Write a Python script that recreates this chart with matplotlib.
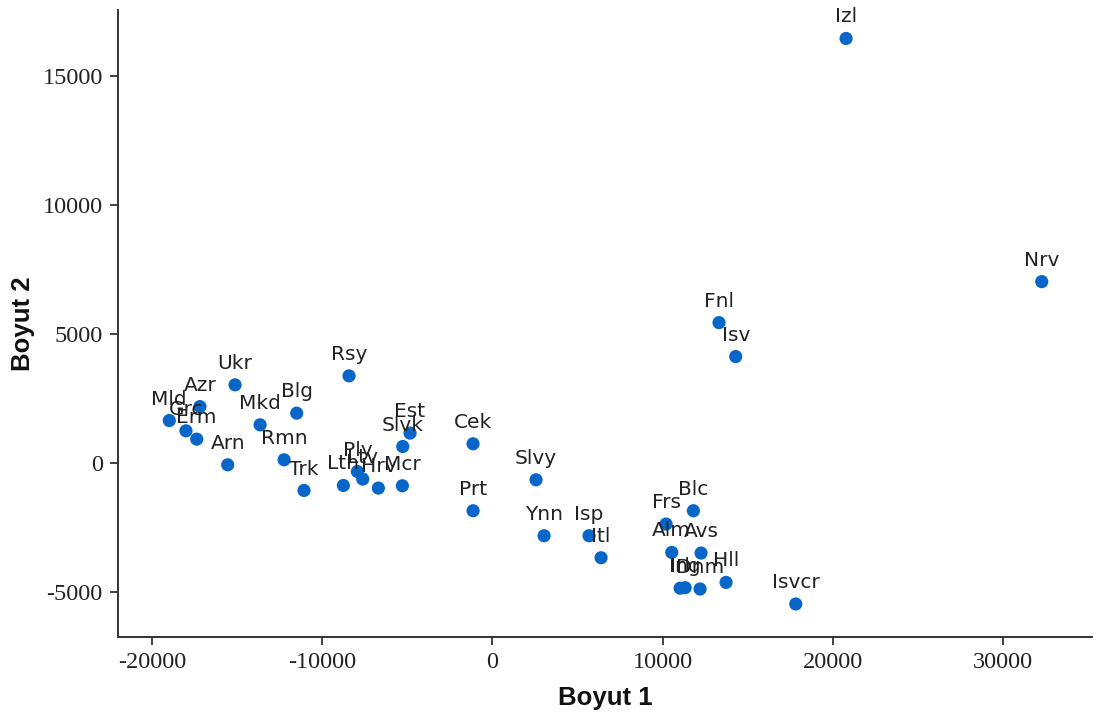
import matplotlib
matplotlib.use("Agg")
import matplotlib.pyplot as plt

plt.rcParams["axes.unicode_minus"] = False

# MDS coordinates of countries
ulkeler = ["Izl", "Nrv", "Fnl", "Isv", "Rsy", "Ukr", "Azr", "Mld", "Grc", "Erm",
           "Mkd", "Blg", "Arn", "Rmn", "Trk", "Est", "Slvk", "Lth", "Ply", "Ltv",
           "Hrv", "Mcr", "Cek", "Prt", "Slvy", "Ynn", "Isp", "Itl", "Blc", "Frs",
           "Alm", "Avs", "Hll", "Isvcr", "Irl", "Ing", "Dnm"]
boyut1 = [20770, 32260, 13310, 14290, -8415, -15110, -17170, -18970, -17990, -17360,
          -13640, -11490, -15540, -12230, -11060, -4833, -5261, -8749, -7927, -7610,
          -6694, -5285, -1133, -1133, 2565, 3036, 5678, 6383, 11803, 10200,
          10534, 12255, 13723, 17815, 11025, 11320, 12197]
boyut2 = [16460, 7033, 5445, 4130, 3381, 3033, 2192, 1650, 1251, 929,
          1483, 1936, -66, 128, -1061, 1162, 643, -867, -325, -620,
          -968, -879, 748, -1847, -647, -2816, -2816, -3668, -1847, -2363,
          -3462, -3486, -4624, -5461, -4849, -4830, -4880]

x_ticks = [-20000, -10000, 0, 10000, 20000, 30000]
y_ticks = [-5000, 0, 5000, 10000, 15000]

fig = plt.figure(figsize=(10.94, 7.2), dpi=100)
ax = fig.add_axes([0.1079, 0.1153, 0.8901, 0.8707])

ax.scatter(boyut1, boyut2, s=90, color="#0866c8", edgecolors="none", zorder=3)
for ad, bx, by in zip(ulkeler, boyut1, boyut2):
    ax.annotate(ad, (bx, by), xytext=(0, 11.5), textcoords="offset points",
                ha="center", va="baseline", fontsize=14.5,
                family="DejaVu Sans", color="#222222", zorder=4)

ax.set_xlim(-21980, 35200)
ax.set_ylim(-6740, 17560)
ax.set_xticks(x_ticks)
ax.set_yticks(y_ticks)

for side in ["top", "right"]:
    ax.spines[side].set_visible(False)
for side in ["left", "bottom"]:
    ax.spines[side].set_color("#333333")
    ax.spines[side].set_linewidth(1.4)

ax.tick_params(direction="out", length=6, width=1.3, color="#333333",
               labelsize=17.5, labelcolor="#222222", pad=5)
for lbl in ax.get_xticklabels() + ax.get_yticklabels():
    lbl.set_family("Liberation Serif")

ax.set_xlabel("Boyut 1", fontsize=18.5, fontweight="bold", family="Liberation Sans",
              color="#111111", labelpad=9)
ax.set_ylabel("Boyut 2", fontsize=18.5, fontweight="bold", family="Liberation Sans",
              color="#111111", labelpad=5)

fig.savefig("out.png", dpi=100)
